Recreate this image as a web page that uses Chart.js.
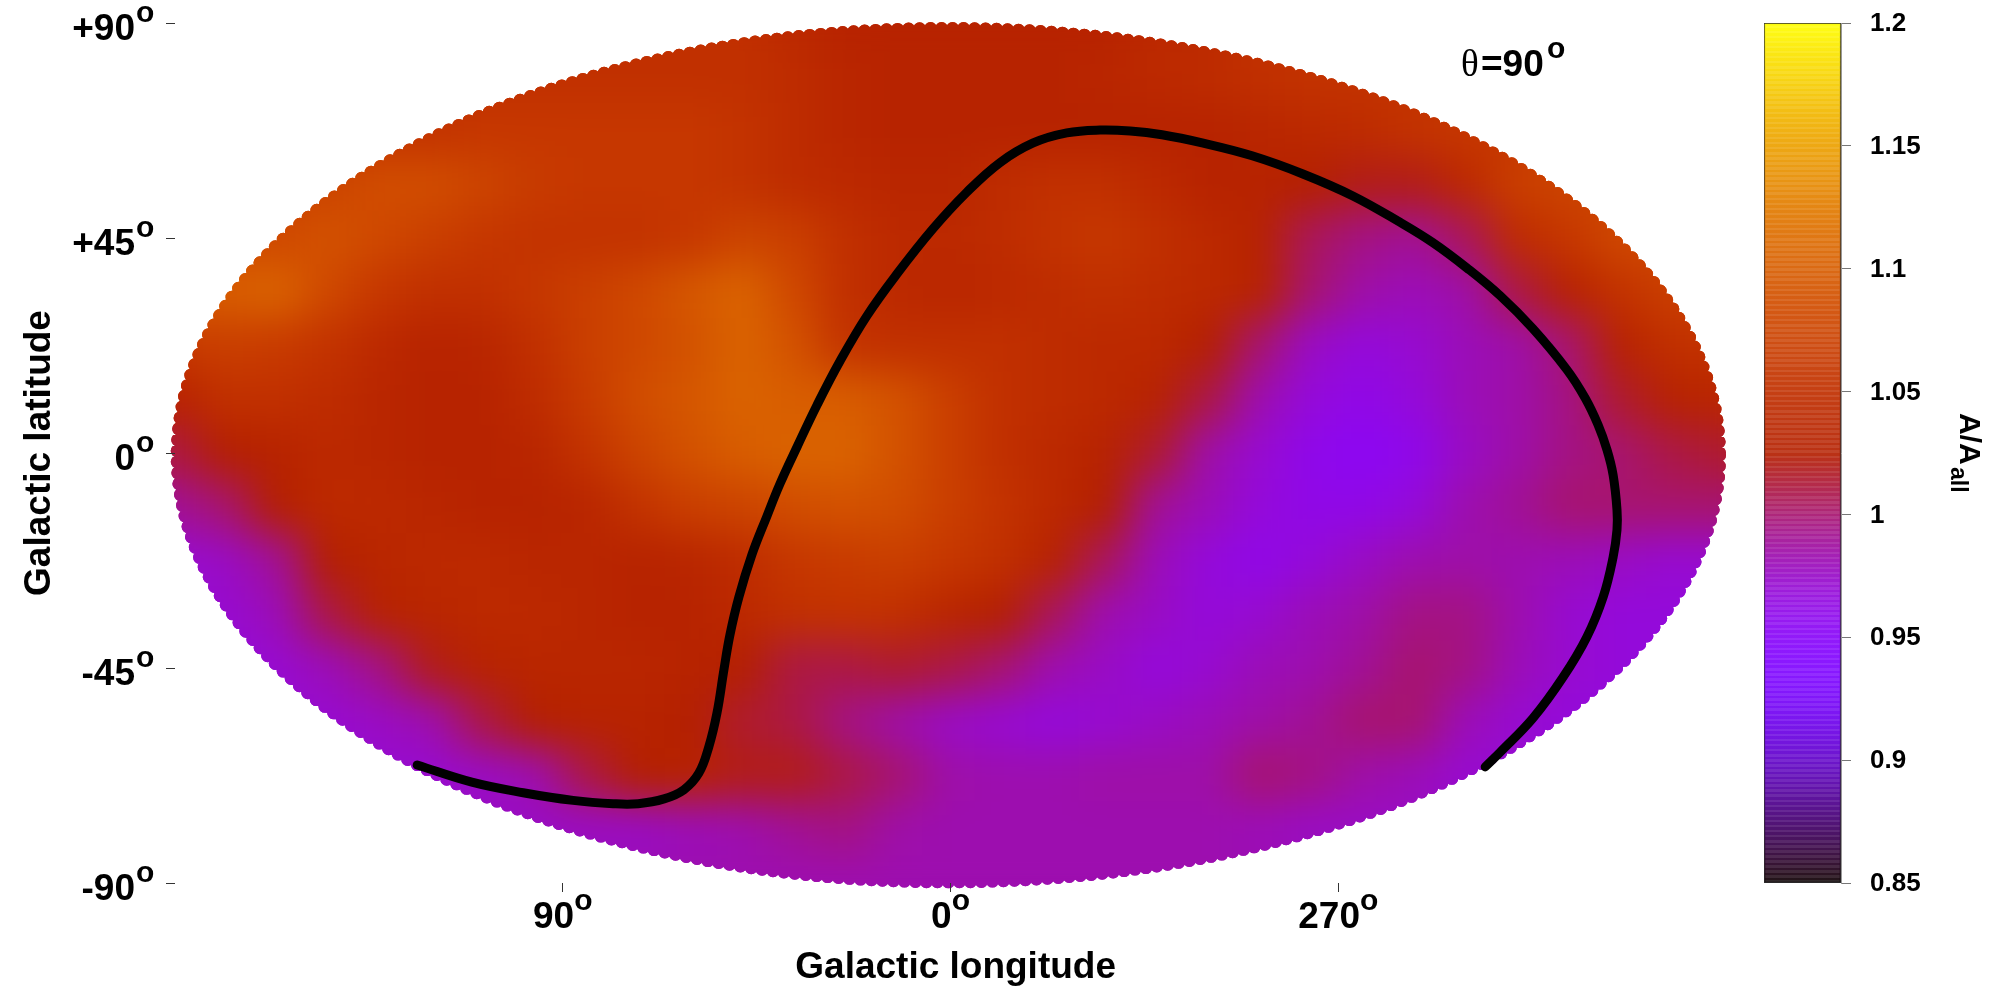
<!DOCTYPE html>
<html lang="en">
  <head>
    <meta charset="UTF-8" />
    <title>Galactic map</title>
    <style>
      body { margin: 0; background: #fff; }
      #wrap { position: relative; width: 2000px; height: 1000px; }
      canvas { position: absolute; left: 0; top: 0; }
    </style>
  </head>
  <body>
    <div id="wrap">
      <canvas id="mapa" width="2000" height="1000"></canvas>
      <canvas id="barra" width="2000" height="1000"></canvas>
    </div>

    <script src="https://cdn.jsdelivr.net/npm/chart.js"></script>

    <script>
      // ticks
      const latTicks = ["+90", "+45", "0", "-45", "-90"];
      const lonTicks = [-90, 0, 90];
      const lonLabels = ["90", "0", "270"];
      const barTicks = ["1.2", "1.15", "1.1", "1.05", "1", "0.95", "0.9", "0.85"];

      // sky grid: column = map x in degrees (0 centre, galactic 90 at -90, 270 at +90)
      const mapX = [-180, -168, -156, -144, -132, -120, -108, -96, -84, -72, -60, -48, -36, -24, -12, 0,
        12, 24, 36, 48, 60, 72, 84, 96, 108, 120, 132, 144, 156, 168, 180];
      const mapY = [90, 78.75, 67.5, 56.25, 45, 33.75, 22.5, 11.25, 0, -11.25, -22.5, -33.75, -45, -56.25, -67.5, -78.75, -90];

      // A/A_all, one list per latitude row
      const latP90 = [1.05, 1.05, 1.05, 1.05, 1.05, 1.05, 1.05, 1.05, 1.05, 1.05, 1.05, 1.05, 1.04, 1.03, 1.03, 1.03, 1.03, 1.03, 1.03, 1.04, 1.04, 1.05, 1.05, 1.05, 1.05, 1.05, 1.05, 1.05, 1.05, 1.05, 1.05];
      const latP79 = [1.05, 1.05, 1.05, 1.05, 1.05, 1.05, 1.05, 1.05, 1.05, 1.05, 1.05, 1.05, 1.045, 1.035, 1.03, 1.03, 1.03, 1.03, 1.035, 1.04, 1.045, 1.05, 1.055, 1.055, 1.055, 1.055, 1.055, 1.055, 1.055, 1.055, 1.055];
      const latP68 = [1.055, 1.055, 1.055, 1.055, 1.055, 1.055, 1.06, 1.06, 1.06, 1.06, 1.06, 1.055, 1.045, 1.035, 1.03, 1.03, 1.03, 1.03, 1.03, 1.03, 1.03, 1.035, 1.04, 1.045, 1.055, 1.06, 1.06, 1.06, 1.06, 1.06, 1.06];
      const latP56 = [1.07, 1.07, 1.07, 1.075, 1.085, 1.085, 1.075, 1.065, 1.06, 1.06, 1.06, 1.055, 1.045, 1.04, 1.035, 1.035, 1.045, 1.05, 1.05, 1.04, 1.03, 1.03, 1.025, 1.02, 1.02, 1.04, 1.07, 1.075, 1.075, 1.075, 1.075];
      const latP45 = [1.08, 1.08, 1.08, 1.09, 1.08, 1.07, 1.06, 1.055, 1.055, 1.055, 1.06, 1.075, 1.07, 1.05, 1.04, 1.04, 1.045, 1.055, 1.06, 1.05, 1.04, 1.03, 1.005, 0.995, 0.99, 1.005, 1.045, 1.06, 1.08, 1.08, 1.08];
      const latP34 = [1.1, 1.1, 1.105, 1.08, 1.06, 1.05, 1.05, 1.06, 1.07, 1.08, 1.095, 1.105, 1.08, 1.05, 1.04, 1.035, 1.04, 1.045, 1.05, 1.045, 1.04, 1.03, 1.0, 0.985, 0.98, 0.985, 1.01, 1.03, 1.055, 1.07, 1.07];
      const latP22 = [1.06, 1.07, 1.065, 1.055, 1.04, 1.03, 1.035, 1.05, 1.07, 1.08, 1.09, 1.105, 1.09, 1.055, 1.05, 1.05, 1.05, 1.045, 1.04, 1.04, 1.025, 1.0, 0.976, 0.968, 0.972, 0.98, 0.985, 1.0, 1.03, 1.05, 1.055];
      const latP11 = [1.03, 1.05, 1.05, 1.045, 1.035, 1.03, 1.03, 1.045, 1.065, 1.085, 1.095, 1.105, 1.1, 1.1, 1.09, 1.07, 1.05, 1.045, 1.04, 1.03, 1.01, 0.983, 0.968, 0.962, 0.968, 0.98, 0.985, 0.995, 1.015, 1.03, 1.035];
      const lat0 = [1.01, 1.025, 1.03, 1.04, 1.035, 1.03, 1.03, 1.035, 1.055, 1.075, 1.09, 1.1, 1.105, 1.105, 1.09, 1.07, 1.05, 1.04, 1.03, 1.015, 0.985, 0.972, 0.96, 0.955, 0.96, 0.976, 0.985, 0.995, 1.0, 1.01, 1.015];
      const latM11 = [0.99, 1.0, 1.025, 1.04, 1.04, 1.035, 1.03, 1.03, 1.035, 1.055, 1.07, 1.075, 1.085, 1.09, 1.085, 1.07, 1.055, 1.04, 1.025, 0.99, 0.98, 0.968, 0.962, 0.962, 0.968, 0.983, 0.99, 1.0, 1.0, 1.0, 1.0];
      const latM22 = [0.972, 0.976, 0.99, 1.025, 1.035, 1.04, 1.04, 1.035, 1.035, 1.03, 1.035, 1.045, 1.06, 1.065, 1.07, 1.06, 1.05, 1.03, 1.005, 0.98, 0.968, 0.962, 0.968, 0.976, 0.983, 0.985, 0.983, 0.98, 0.976, 0.972, 0.972];
      const latM34 = [0.972, 0.972, 0.98, 1.01, 1.03, 1.035, 1.04, 1.04, 1.035, 1.03, 1.03, 1.04, 1.05, 1.055, 1.05, 1.035, 1.025, 1.005, 0.983, 0.976, 0.968, 0.972, 0.98, 0.985, 0.995, 0.995, 0.983, 0.972, 0.968, 0.968, 0.968];
      const latM45 = [0.968, 0.968, 0.972, 0.98, 0.995, 1.02, 1.03, 1.035, 1.035, 1.035, 1.03, 1.025, 1.01, 1.01, 1.015, 1.01, 1.0, 0.983, 0.976, 0.968, 0.972, 0.98, 0.983, 0.99, 1.0, 0.995, 0.98, 0.972, 0.968, 0.968, 0.968];
      const latM56 = [0.972, 0.972, 0.972, 0.972, 0.976, 0.983, 1.01, 1.025, 1.03, 1.03, 1.025, 1.015, 1.01, 0.995, 0.985, 0.976, 0.972, 0.968, 0.972, 0.976, 0.98, 0.985, 0.99, 1.0, 1.0, 0.98, 0.972, 0.968, 0.968, 0.968, 0.968];
      const latM68 = [0.972, 0.972, 0.972, 0.972, 0.972, 0.972, 0.976, 0.983, 1.01, 1.025, 1.03, 1.02, 1.02, 1.01, 1.0, 0.985, 0.983, 0.983, 0.985, 0.985, 0.985, 1.0, 0.995, 0.985, 0.98, 0.972, 0.972, 0.972, 0.972, 0.972, 0.972];
      const latM79 = [0.976, 0.976, 0.976, 0.976, 0.976, 0.976, 0.976, 0.976, 0.976, 0.976, 0.98, 0.983, 0.99, 0.995, 0.985, 0.983, 0.983, 0.983, 0.983, 0.983, 0.983, 0.98, 0.976, 0.976, 0.976, 0.976, 0.976, 0.976, 0.976, 0.976, 0.976];
      const latM90 = [0.983, 0.983, 0.983, 0.983, 0.983, 0.983, 0.983, 0.983, 0.983, 0.983, 0.983, 0.983, 0.983, 0.983, 0.983, 0.983, 0.983, 0.983, 0.983, 0.983, 0.983, 0.983, 0.983, 0.983, 0.983, 0.983, 0.983, 0.983, 0.983, 0.983, 0.983];
      const latRows = [latP90, latP79, latP68, latP56, latP45, latP34, latP22, latP11, lat0, latM11, latM22, latM34, latM45, latM56, latM68, latM79, latM90];

      // black curve, map x / map y in degrees
      const curveX = [-123.8, -111.1, -99.2, -87.6, -78.3, -72.5, -66.5, -61.9, -58.4, -56.1, -54.2, -52.6, -51.2, -49.1, -46.1, -42.6, -39.6, -35.6, -31, -25.6, -19.4, -12.4, -4.1, 3.8, 11.5, 19.2, 27, 34.7, 41.7, 49.1, 58.4, 70, 81.8, 93.4, 104.3, 112, 119.9, 127.6, 135.2, 143.1, 147.3, 150.3, 152.4, 153.8, 154.7, 154.7, 153.8, 151.5, 147.7, 142.2, 135.2, 127.6, 124.1];
      const curveY = [-65.3, -68.9, -71.1, -72.7, -73.4, -73.4, -72.4, -70.5, -67, -61.5, -54.4, -45.4, -38.1, -30.1, -21.3, -13.2, -6.5, 1.3, 10, 19.3, 28.7, 37.5, 46.9, 54.6, 60.8, 64.9, 67, 67.6, 67.4, 66.6, 64.9, 62.2, 58.4, 53.8, 48.3, 44, 38.7, 32.9, 26, 17.4, 11.5, 5.9, 0.6, -4.6, -11.9, -16.1, -21.8, -30.1, -38.5, -46.9, -55.5, -62.6, -65.7];

      const barMin = 0.85;
      const barMax = 1.2;

      const sans = "'Liberation Sans'";
      Chart.defaults.font.family = sans;
      Chart.defaults.color = "#000";
      Chart.defaults.animation = false;

      // gnuplot default palette (rgbformulae 7,5,15)
      function paleta(v, alpha) {
        const t = Math.min(1, Math.max(0, (v - barMin) / (barMax - barMin)));
        const r = Math.round(255 * Math.sqrt(t));
        const g = Math.round(255 * t * t * t);
        const b = Math.round(255 * Math.max(0, Math.sin(2 * Math.PI * t)));
        return `rgba(${r},${g},${b},${alpha === undefined ? 1 : alpha})`;
      }

      const puntos = [];
      latRows.forEach((fila, i) => {
        fila.forEach((v, j) => puntos.push({ x: mapX[j], y: mapY[i], v: v }));
      });
      const curva = curveX.map((x, i) => ({ x: x, y: curveY[i] }));

      // soften the cell mosaic and cut it to the scalloped sky outline
      const suavizado = {
        id: "suavizado",
        afterDatasetDraw(chart, args) {
          if (args.index !== 0) return;
          const { ctx, canvas, scales } = chart;
          const copia = document.createElement("canvas");
          copia.width = canvas.width;
          copia.height = canvas.height;
          copia.getContext("2d").drawImage(canvas, 0, 0);

          ctx.save();
          ctx.clearRect(0, 0, canvas.width, canvas.height);
          const cx = scales.x.getPixelForValue(-0.5);
          const cy = scales.y.getPixelForValue(-0.45);
          const a = scales.x.getPixelForValue(179) - scales.x.getPixelForValue(0);
          const b = scales.y.getPixelForValue(0) - scales.y.getPixelForValue(89.3);
          const r = 6.5;
          ctx.beginPath();
          ctx.ellipse(cx, cy, a, b, 0, 0, 2 * Math.PI);
          for (let t = 0; t < 2 * Math.PI; ) {
            const px = cx + a * Math.cos(t);
            const py = cy + b * Math.sin(t);
            ctx.moveTo(px + r, py);
            ctx.arc(px, py, r, 0, 2 * Math.PI);
            t += 11 / Math.hypot(a * Math.sin(t), b * Math.cos(t));
          }
          ctx.clip();
          ctx.drawImage(copia, 0, 0);
          ctx.filter = "blur(20px)";
          ctx.drawImage(copia, 0, 0);
          ctx.restore();
        },
      };

      // tick labels with the raised "o", plus the corner note
      const rotulos = {
        id: "rotulos",
        afterDraw(chart) {
          const { ctx, scales } = chart;
          ctx.save();
          ctx.fillStyle = "#000";
          ctx.textBaseline = "alphabetic";

          scales.y.ticks.forEach((tick) => {
            const py = scales.y.getPixelForValue(tick.value);
            ctx.font = `bold 37px ${sans}`;
            ctx.textAlign = "right";
            ctx.fillText(tick.label, 135, py + 17);
            ctx.font = `bold 30px ${sans}`;
            ctx.textAlign = "left";
            ctx.fillText("o", 136, py - 1);
          });

          scales.x.ticks.forEach((tick) => {
            const px = scales.x.getPixelForValue(tick.value);
            ctx.textAlign = "left";
            ctx.font = `bold 37px ${sans}`;
            const w1 = ctx.measureText(tick.label).width;
            ctx.font = `bold 30px ${sans}`;
            const w2 = ctx.measureText("o").width;
            const x0 = px - (w1 + w2) / 2;
            ctx.font = `bold 37px ${sans}`;
            ctx.fillText(tick.label, x0, 928);
            ctx.font = `bold 30px ${sans}`;
            ctx.fillText("o", x0 + w1, 910);
          });

          ctx.textAlign = "left";
          ctx.font = `37px 'Liberation Serif'`;
          ctx.fillText("θ", 1461, 76);
          ctx.font = `bold 37px ${sans}`;
          ctx.fillText("=90", 1481, 76);
          ctx.font = `bold 30px ${sans}`;
          ctx.fillText("o", 1547, 58);
          ctx.restore();
        },
      };

      // colour bar tick labels and its title
      const rotulosBarra = {
        id: "rotulosBarra",
        afterDraw(chart) {
          const { ctx, scales } = chart;
          ctx.save();
          ctx.fillStyle = "#000";
          ctx.textAlign = "left";
          ctx.textBaseline = "middle";
          ctx.font = `bold 26px ${sans}`;
          scales.y.ticks.forEach((tick) => {
            ctx.fillText(tick.label, 1870, scales.y.getPixelForValue(tick.value) + 1);
          });

          ctx.textBaseline = "alphabetic";
          ctx.save();
          ctx.translate(1960, 413);
          ctx.rotate(Math.PI / 2);
          ctx.font = `bold 30px ${sans}`;
          ctx.fillText("A/A", 0, 0);
          ctx.restore();
          ctx.save();
          ctx.translate(1951, 467);
          ctx.rotate(Math.PI / 2);
          ctx.font = `bold 23px ${sans}`;
          ctx.fillText("all", 0, 0);
          ctx.restore();
          ctx.restore();
        },
      };

      new Chart(document.querySelector("#mapa"), {
        type: "scatter",
        data: {
          datasets: [
            {
              label: "A/Aall",
              data: puntos,
              order: 2,
              clip: false,
              pointStyle: "rect",
              pointRadius: 39,
              pointBorderWidth: 0,
              pointBackgroundColor: (ctx) => paleta(ctx.raw.v),
            },
            {
              label: "θ=90°",
              data: curva,
              order: 1,
              clip: false,
              showLine: true,
              pointRadius: 0,
              borderColor: "#000",
              borderWidth: 9,
              borderCapStyle: "round",
              borderJoinStyle: "round",
              tension: 0.4,
            },
          ],
        },
        options: {
          responsive: false,
          devicePixelRatio: 1,
          layout: { autoPadding: false, padding: { top: 23, right: 274, left: 0, bottom: 0 } },
          plugins: { legend: { display: false }, tooltip: { enabled: false } },
          scales: {
            x: {
              type: "linear",
              min: -180,
              max: 180,
              afterBuildTicks: (eje) => {
                eje.ticks = lonTicks.map((v) => ({ value: v }));
              },
              afterFit: (eje) => {
                eje.height = 117;
              },
              ticks: {
                display: false,
                autoSkip: false,
                callback: (v) => lonLabels[lonTicks.indexOf(v)],
              },
              grid: { z: 1, drawOnChartArea: false, tickLength: 9, color: "#333" },
              border: { display: false },
              title: {
                display: true,
                text: " Galactic longitude",
                font: { size: 37, weight: "bold" },
                padding: { top: 0, bottom: 10 },
              },
            },
            y: {
              type: "linear",
              min: -90,
              max: 90,
              afterFit: (eje) => {
                eje.width = 175;
              },
              ticks: {
                display: false,
                stepSize: 45,
                callback: (v) => latTicks[(90 - v) / 45],
              },
              grid: { z: 1, drawOnChartArea: false, tickLength: 9, color: "#333" },
              border: { display: false },
              title: {
                display: true,
                text: "Galactic latitude",
                font: { size: 37, weight: "bold" },
                padding: { top: 18, bottom: 0 },
              },
            },
          },
        },
        plugins: [suavizado, rotulos],
      });

      // colour bar: one floating bar painted with the palette in thin bands
      function bandas(ctx) {
        const area = ctx.chart.chartArea;
        if (!area) return "#000";
        const g = ctx.chart.ctx.createLinearGradient(0, area.bottom, 0, area.top);
        const n = 340;
        for (let i = 0; i < n; i++) {
          const v = barMin + ((barMax - barMin) * (i + 0.5)) / n;
          const c = paleta(v, i % 2 ? 0.92 : 0.84);
          g.addColorStop(i / n, c);
          g.addColorStop((i + 1) / n, c);
        }
        return g;
      }

      new Chart(document.querySelector("#barra"), {
        type: "bar",
        data: {
          labels: ["A/Aall"],
          datasets: [
            {
              data: [[barMin, barMax]],
              backgroundColor: bandas,
              borderColor: "#333",
              borderWidth: 1,
              borderSkipped: false,
              barPercentage: 1,
              categoryPercentage: 1,
            },
          ],
        },
        options: {
          responsive: false,
          devicePixelRatio: 1,
          layout: { autoPadding: false, padding: { left: 1764, top: 23, bottom: 117, right: 0 } },
          plugins: { legend: { display: false }, tooltip: { enabled: false } },
          scales: {
            x: { display: false },
            y: {
              position: "right",
              min: barMin,
              max: barMax,
              afterFit: (eje) => {
                eje.width = 159;
              },
              ticks: {
                display: false,
                stepSize: 0.05,
                callback: (v) => barTicks[Math.round((barMax - v) / 0.05)],
              },
              grid: { drawOnChartArea: false, tickLength: 10, color: "#777" },
              border: { color: "#999" },
            },
          },
        },
        plugins: [rotulosBarra],
      });
    </script>
  </body>
</html>
